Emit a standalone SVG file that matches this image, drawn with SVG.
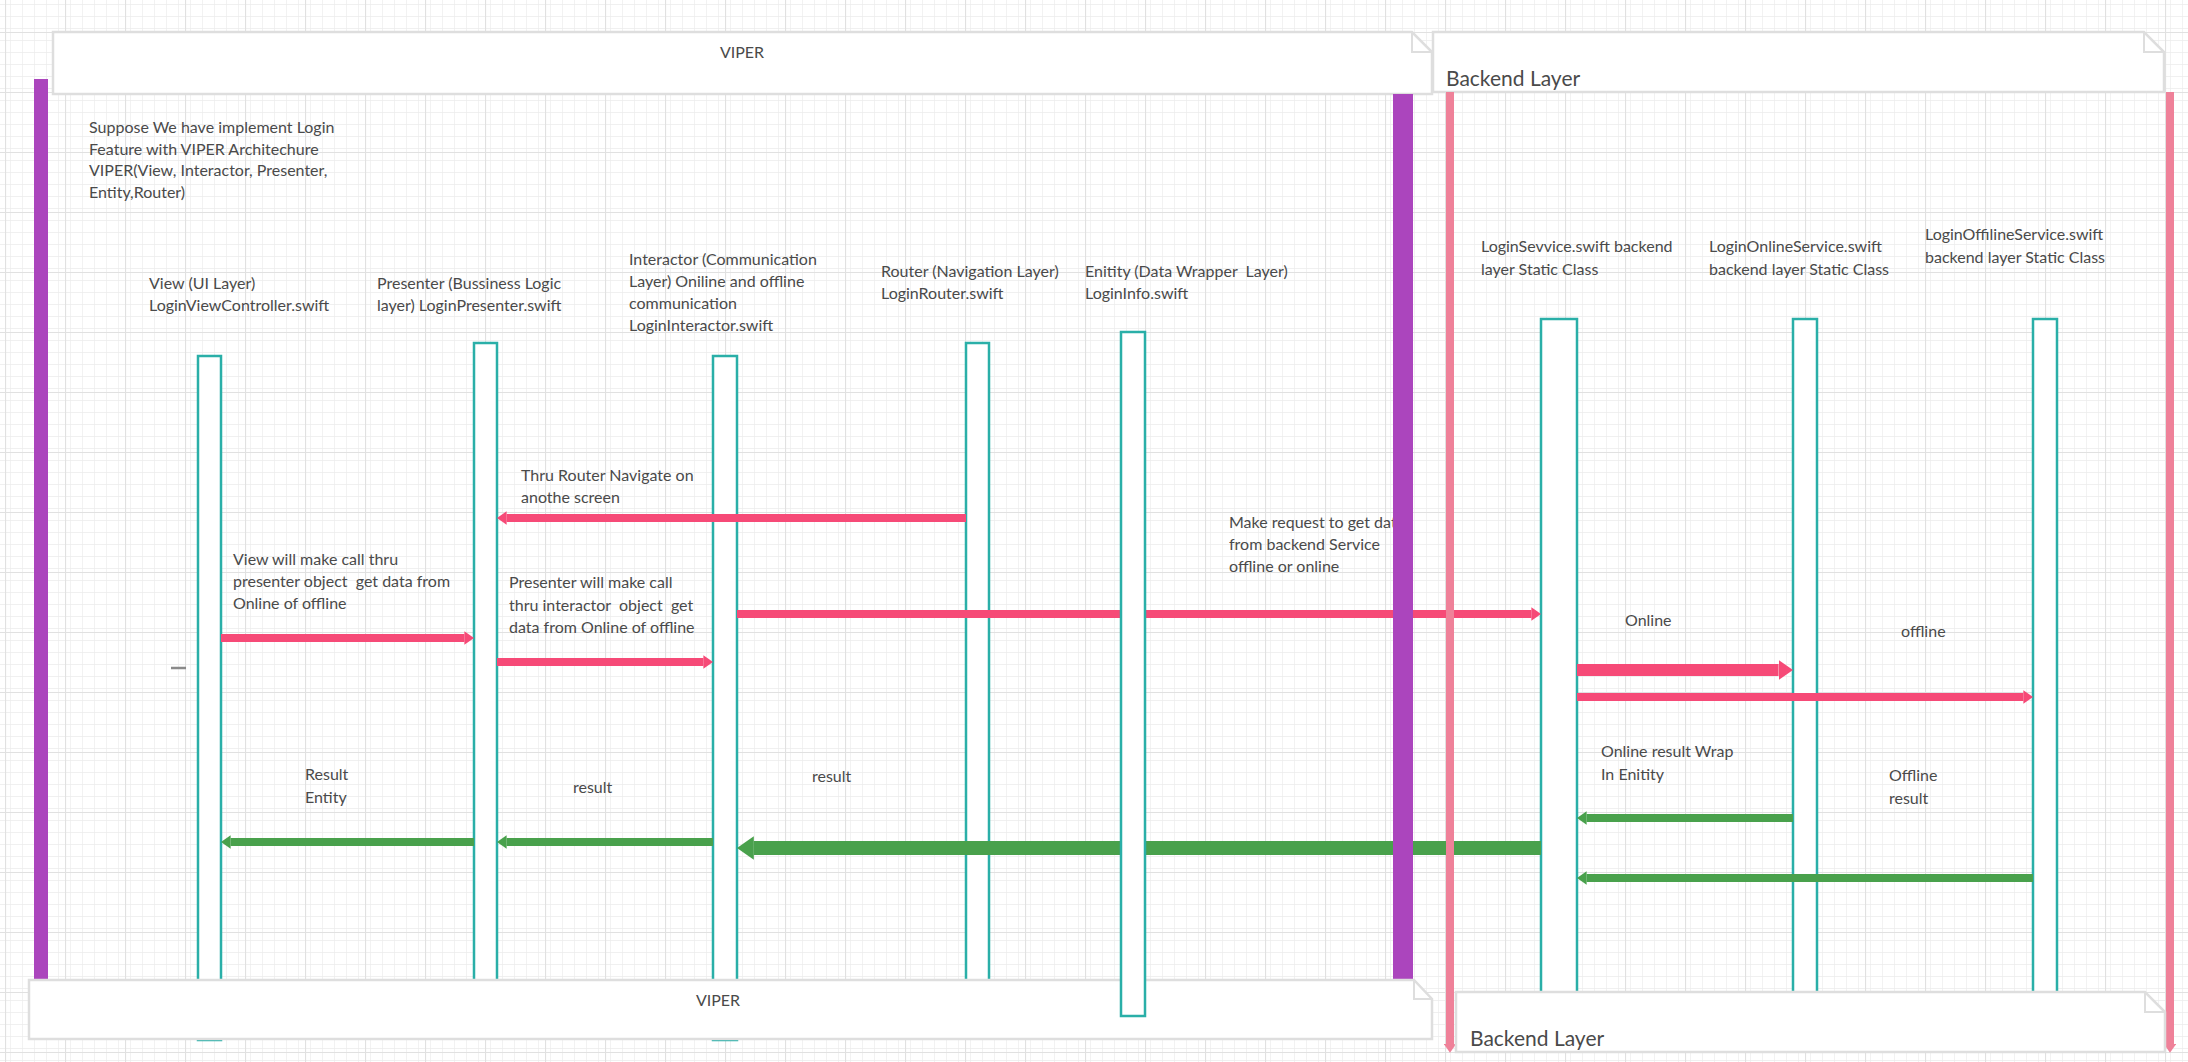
<svg xmlns="http://www.w3.org/2000/svg" width="2188" height="1062" viewBox="0 0 2188 1062">
<defs>
<pattern id="minor" width="12" height="12" patternUnits="userSpaceOnUse" x="5" y="32">
<path d="M12 0 L0 0 0 12" fill="none" stroke="#ececec" stroke-width="1.4"/>
</pattern>
<pattern id="major" width="60" height="60" patternUnits="userSpaceOnUse" x="5" y="32">
<rect width="60" height="60" fill="url(#minor)"/>
<path d="M60 0 L0 0 0 60" fill="none" stroke="#e1e1e1" stroke-width="2.2"/>
</pattern>
<marker id="hPink" viewBox="0 -7 10 14" refX="0" refY="0" markerWidth="1.2" markerHeight="1.68" orient="auto" markerUnits="strokeWidth">
<path d="M0,-7 L10,0 L0,7 z" fill="#f64a77"/>
</marker>
<marker id="hGreen" viewBox="0 -7 10 14" refX="0" refY="0" markerWidth="1.2" markerHeight="1.68" orient="auto" markerUnits="strokeWidth">
<path d="M0,-7 L10,0 L0,7 z" fill="#49a14c"/>
</marker>
<marker id="hLayer" viewBox="0 -7 10 14" refX="0" refY="0" markerWidth="1.1" markerHeight="1.55" orient="auto" markerUnits="strokeWidth">
<path d="M0,-7 L10,0 L0,7 z" fill="#ef8199"/>
</marker>
<style>
.t{font-family:Lato,"Liberation Sans",sans-serif;font-size:16px;fill:#4a4a4a;white-space:pre}
.title{font-family:Lato,"Liberation Sans",sans-serif;font-size:21px;fill:#4a4a4a}
.note{fill:#ffffff;stroke:#dedede;stroke-width:2.5}
.fold{fill:none;stroke:#dedede;stroke-width:2}
.life{fill:#ffffff;stroke:#2aafa8;stroke-width:2.5}
.pink{stroke:#f64a77;fill:none;marker-end:url(#hPink)}
.green{stroke:#49a14c;fill:none;marker-end:url(#hGreen)}
.layer{stroke:#ef8199;stroke-width:8;marker-end:url(#hLayer)}
.bar{fill:#ab45bd}
</style>
</defs>
<rect width="2188" height="1062" fill="#ffffff"/>
<rect width="2188" height="1062" fill="url(#major)"/>

<g id="viper-top">
<polygon class="note" points="53,32 1412,32 1432,52 1432,94 53,94"/>
<polyline class="fold" points="1412,32 1412,52 1432,52"/>
<text class="t" x="742" y="58" text-anchor="middle">VIPER</text>
</g>
<g id="backend-top">
<polygon class="note" points="1433,32 2144,32 2164,52 2164,92 1433,92"/>
<polyline class="fold" points="2144,32 2144,52 2164,52"/>
<text class="title" x="1446" y="86">Backend Layer</text>
</g>

<g id="view-lifeline"><rect class="life" x="198" y="356" width="23" height="684"/></g>
<g id="presenter-lifeline"><rect class="life" x="474" y="343" width="23" height="657"/></g>
<g id="interactor-lifeline"><rect class="life" x="713" y="356" width="24" height="684"/></g>
<g id="router-lifeline"><rect class="life" x="966" y="343" width="23" height="657"/></g>
<g id="loginservice-lifeline"><rect class="life" x="1541" y="319" width="36" height="681"/></g>
<g id="online-lifeline"><rect class="life" x="1793" y="319" width="24" height="681"/></g>
<g id="offline-lifeline"><rect class="life" x="2033" y="319" width="24" height="681"/></g>

<g id="connectors">
<line class="pink" stroke-width="8" x1="966" y1="518" x2="506.6" y2="518"/>
<line class="pink" stroke-width="8" x1="221" y1="638" x2="464.4" y2="638"/>
<line class="pink" stroke-width="8" x1="497" y1="662" x2="703.4" y2="662"/>
<line class="pink" stroke-width="8" x1="737" y1="614" x2="1531.4" y2="614"/>
<line class="pink" stroke-width="12" x1="1577" y1="670" x2="1778.6" y2="670"/>
<line class="pink" stroke-width="8" x1="1577" y1="697" x2="2023.4" y2="697"/>
<line class="green" stroke-width="8" x1="1793" y1="818" x2="1586.6" y2="818"/>
<line class="green" stroke-width="8" x1="2033" y1="878" x2="1586.6" y2="878"/>
<line class="green" stroke-width="14" x1="1541" y1="848" x2="753.8" y2="848"/>
<line class="green" stroke-width="8" x1="713" y1="842" x2="506.6" y2="842"/>
<line class="green" stroke-width="8" x1="474" y1="842" x2="230.6" y2="842"/>
</g>

<g id="labels">
<text class="t" x="89" y="133"><tspan x="89">Suppose We have implement Login</tspan><tspan x="89" dy="21.7">Feature with VIPER Architechure</tspan><tspan x="89" dy="21.7">VIPER(View, Interactor, Presenter,</tspan><tspan x="89" dy="21.7">Entity,Router)</tspan></text>
<text class="t" x="149" y="289"><tspan x="149">View (UI Layer)</tspan><tspan x="149" dy="22">LoginViewController.swift</tspan></text>
<text class="t" x="377" y="289"><tspan x="377">Presenter (Bussiness Logic</tspan><tspan x="377" dy="22">layer) LoginPresenter.swift</tspan></text>
<text class="t" x="629" y="265"><tspan x="629">Interactor (Communication</tspan><tspan x="629" dy="22">Layer) Oniline and offline</tspan><tspan x="629" dy="22">communication</tspan><tspan x="629" dy="22">LoginInteractor.swift</tspan></text>
<text class="t" x="881" y="277"><tspan x="881">Router (Navigation Layer)</tspan><tspan x="881" dy="22">LoginRouter.swift</tspan></text>
<text class="t" x="1481" y="252"><tspan x="1481">LoginSevvice.swift backend</tspan><tspan x="1481" dy="22.5">layer Static Class</tspan></text>
<text class="t" x="1709" y="252"><tspan x="1709">LoginOnlineService.swift</tspan><tspan x="1709" dy="22.5">backend layer Static Class</tspan></text>
<text class="t" x="1925" y="240"><tspan x="1925">LoginOffilineService.swift</tspan><tspan x="1925" dy="22.5">backend layer Static Class</tspan></text>
<text class="t" x="521" y="481"><tspan x="521">Thru Router Navigate on</tspan><tspan x="521" dy="22">anothe screen</tspan></text>
<text class="t" x="233" y="565"><tspan x="233">View will make call thru</tspan><tspan x="233" dy="22">presenter object  get data from</tspan><tspan x="233" dy="22">Online of offline</tspan></text>
<text class="t" x="509" y="588"><tspan x="509">Presenter will make call</tspan><tspan x="509" dy="22.5">thru interactor  object  get</tspan><tspan x="509" dy="22.5">data from Online of offline</tspan></text>
<text class="t" x="1229" y="528"><tspan x="1229">Make request to get dat</tspan><tspan x="1229" dy="22">from backend Service</tspan><tspan x="1229" dy="22">offline or online</tspan></text>
<text class="t" x="1625" y="626">Online</text>
<text class="t" x="1901" y="637">offline</text>
<text class="t" x="1601" y="757"><tspan x="1601">Online result Wrap</tspan><tspan x="1601" dy="22.5">In Enitity</tspan></text>
<text class="t" x="1889" y="781"><tspan x="1889">Offline</tspan><tspan x="1889" dy="22.5">result</tspan></text>
<text class="t" x="812" y="782">result</text>
<text class="t" x="573" y="793">result</text>
<text class="t" x="305" y="780"><tspan x="305">Result</tspan><tspan x="305" dy="22.5">Entity</tspan></text>
<line x1="171" y1="668" x2="186" y2="668" stroke="#8a8a8a" stroke-width="2.5"/>
</g>

<g id="viper-bounds">
<rect class="bar" x="34" y="79" width="14" height="901"/>
<rect class="bar" x="1393" y="94" width="20" height="886"/>
</g>
<g id="backend-bounds">
<line class="layer" x1="1450" y1="92" x2="1450" y2="1044"/>
<line class="layer" x1="2170" y1="92" x2="2170" y2="1044"/>
</g>

<g id="viper-bottom">
<polygon class="note" points="29,980 1414,980 1432,999 1432,1039 29,1039"/>
<polyline class="fold" points="1414,980 1414,999 1432,999"/>
<text class="t" x="718" y="1006" text-anchor="middle">VIPER</text>
</g>
<g id="backend-bottom">
<polygon class="note" points="1456,992 2145,992 2165,1012 2165,1052 1456,1052"/>
<polyline class="fold" points="2145,992 2145,1012 2165,1012"/>
<text class="title" x="1470" y="1046">Backend Layer</text>
</g>

<g id="entity-lifeline"><rect class="life" x="1121" y="332" width="24" height="684"/></g>
<g id="entity-label"><text class="t" x="1085" y="277"><tspan x="1085">Enitity (Data Wrapper  Layer)</tspan><tspan x="1085" dy="22">LoginInfo.swift</tspan></text></g>
</svg>
